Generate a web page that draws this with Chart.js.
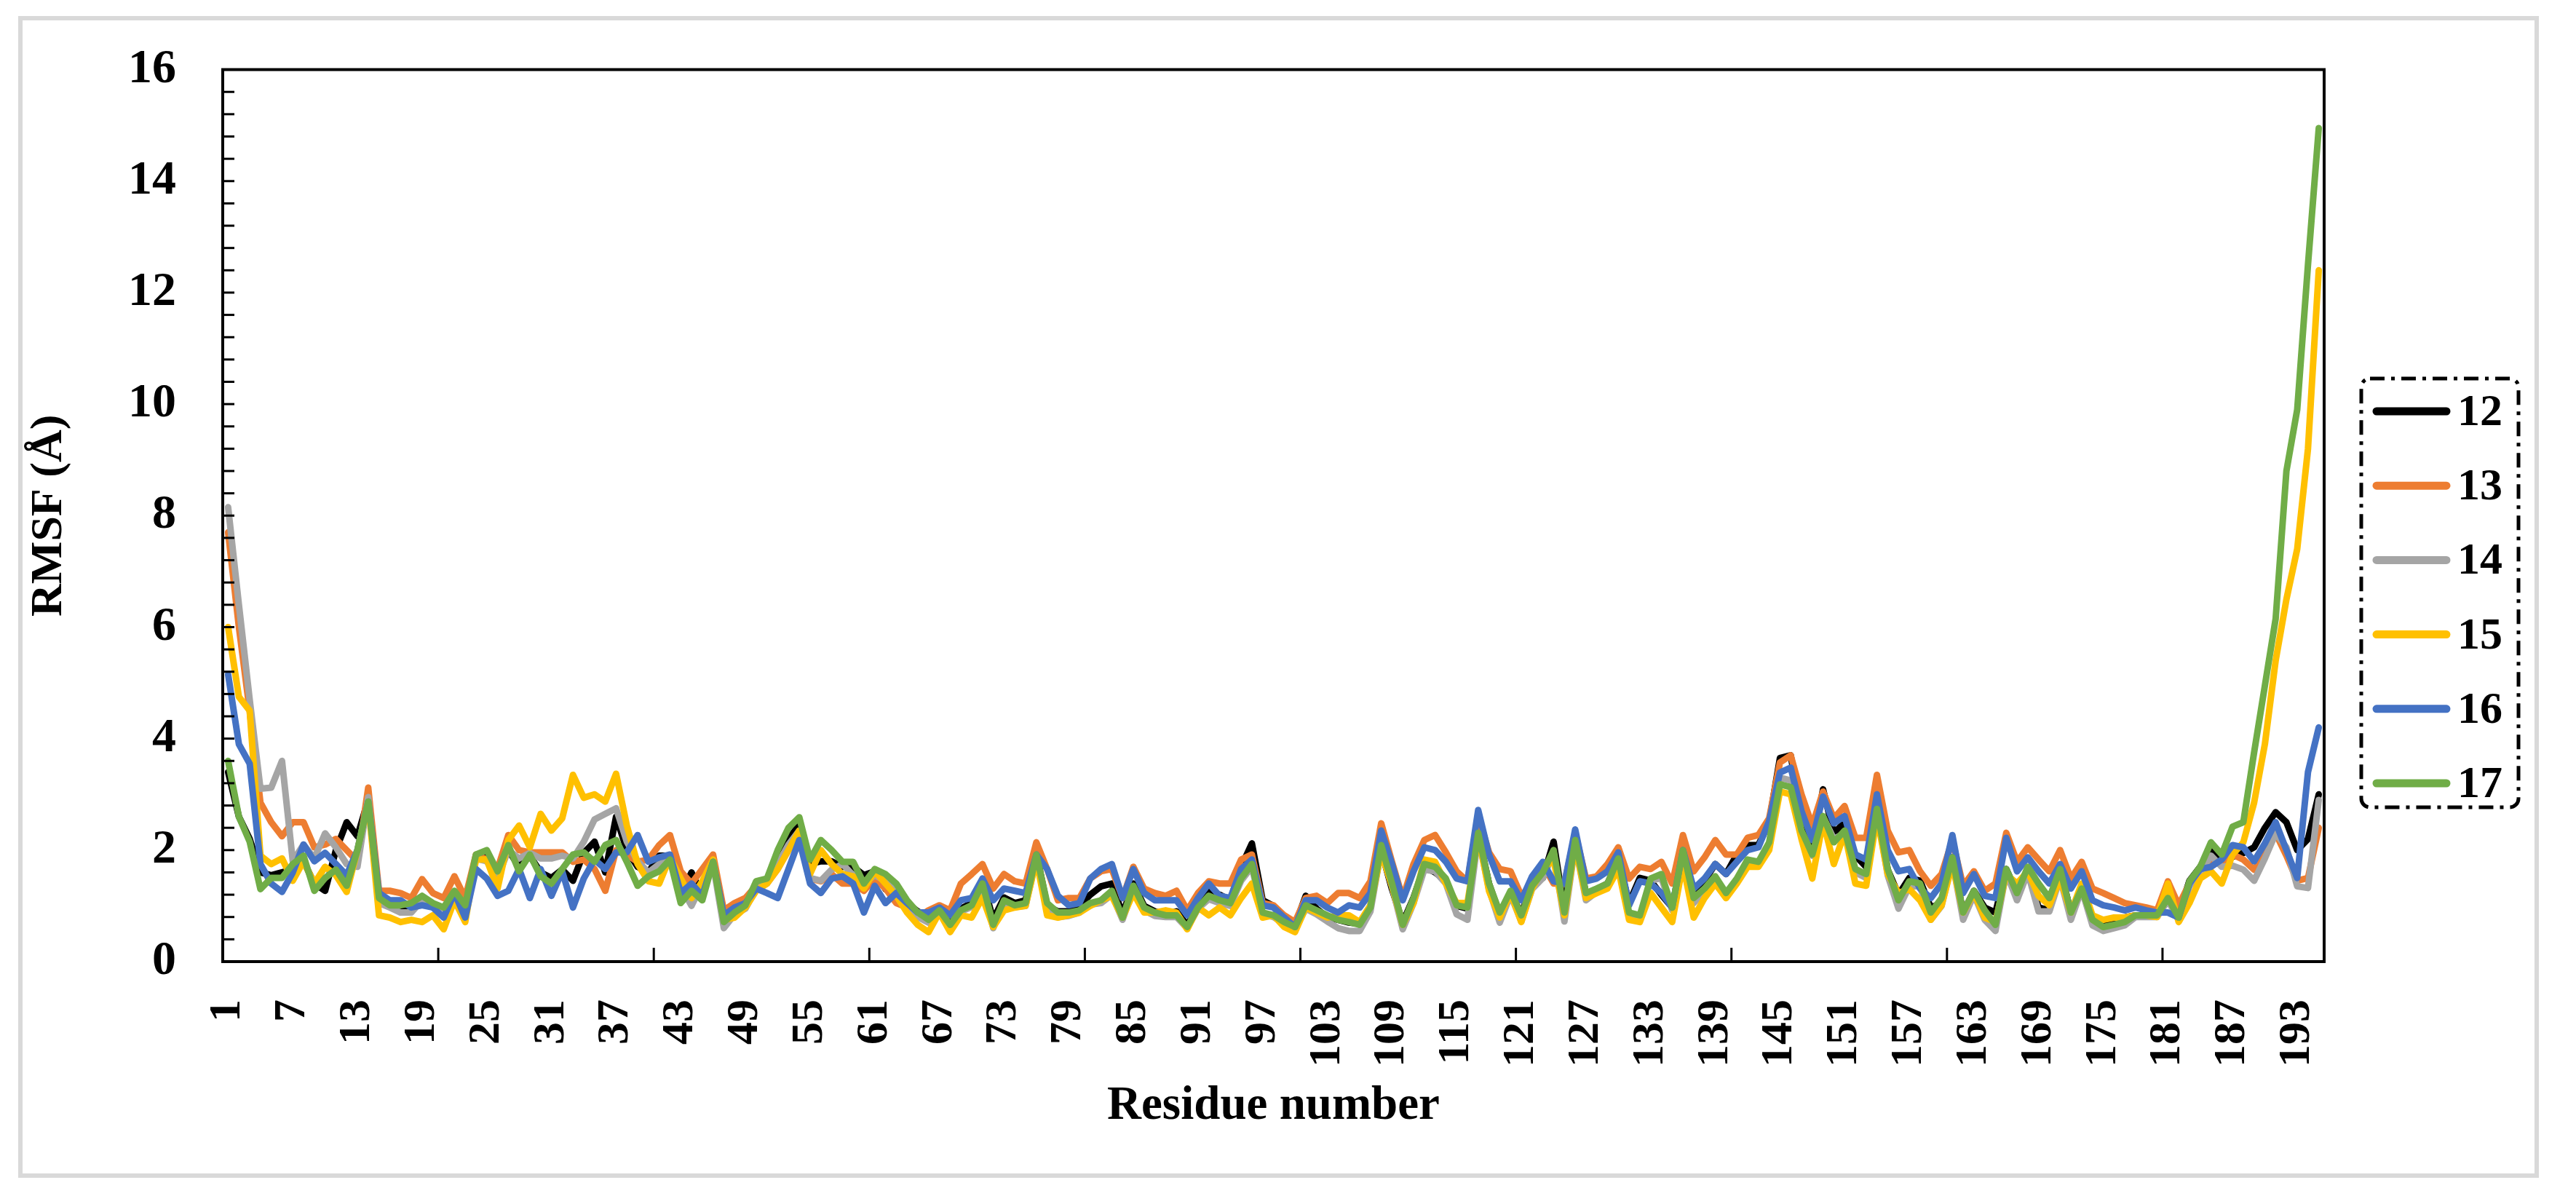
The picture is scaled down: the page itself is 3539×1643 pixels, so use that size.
<!DOCTYPE html>
<html>
<head>
<meta charset="utf-8">
<title>RMSF</title>
<script src="https://cdn.jsdelivr.net/npm/chart.js@4/dist/chart.umd.min.js"></script>
<style>
    html, body { margin: 0; padding: 0; background: #ffffff; }
    #contenedor { width: 3539px; height: 1643px; }
</style>
</head>
<body>
<div id="contenedor"><canvas id="grafica-rmsf" width="3539" height="1643"></canvas></div>
<script>
// ==================== DATOS ====================
const residuos = Array.from({ length: 195 }, (_, i) => String(i + 1));
const nombresSeries = ['12', '13', '14', '15', '16', '17'];
const ticksY = [0, 2, 4, 6, 8, 10, 12, 14, 16];

const rmsf12 = [
    3.4, 2.6, 2.2, 1.6, 1.55, 1.6, 1.65, 1.8, 1.4, 1.27,
    2.0, 2.5, 2.25, 2.9, 1.1, 1.0, 0.98, 0.95, 1.1, 1.0,
    0.95, 1.25, 0.95, 1.9, 1.9, 1.65, 2.0, 1.7, 1.9, 1.6,
    1.5, 1.65, 1.45, 1.95, 2.15, 1.6, 2.6, 2.0, 1.7, 1.6,
    1.9, 1.9, 1.2, 1.6, 1.2, 1.8, 0.75, 0.9, 1.0, 1.4,
    1.45, 1.85, 2.2, 2.45, 1.75, 1.8, 1.8, 1.7, 1.7, 1.55,
    1.62, 1.3, 1.2, 1.05, 0.9, 0.8, 0.9, 0.7, 0.95, 1.05,
    1.45, 0.75, 1.15, 1.05, 1.1, 1.95, 1.0, 0.9, 0.9, 1.0,
    1.2, 1.35, 1.4, 0.85, 1.4, 1.0, 0.9, 0.85, 0.9, 0.65,
    1.0, 1.25, 1.2, 1.1, 1.7, 2.12, 1.1, 1.0, 0.75, 0.65,
    1.18, 0.95, 0.8, 0.75, 0.7, 0.68, 1.0, 2.0, 1.3, 0.7,
    1.15, 1.7, 1.6, 1.45, 1.0, 0.95, 2.3, 1.4, 0.85, 1.25,
    0.85, 1.4, 1.5, 2.15, 0.9, 2.3, 1.2, 1.3, 1.4, 1.83,
    1.05, 1.5, 1.45, 1.2, 0.97, 1.96, 1.2, 1.45, 1.75, 1.57,
    1.92, 2.09, 2.09, 2.5, 3.65, 3.7, 2.6, 2.0, 3.09, 2.3,
    2.5, 1.9, 1.7, 2.75, 1.65, 1.2, 1.5, 1.45, 0.97, 1.05,
    1.87, 0.88, 1.27, 0.97, 0.88, 1.66, 1.23, 1.66, 0.97, 0.92,
    1.66, 0.88, 1.27, 0.79, 0.66, 0.71, 0.79, 0.83, 0.83, 0.83,
    1.15, 0.85, 1.45, 1.7, 2.0, 1.8, 1.88, 1.95, 2.05, 2.4,
    2.68, 2.5, 2.0, 2.2, 3.0
];

const rmsf13 = [
    7.7, 6.0, 4.5, 2.85, 2.5, 2.25, 2.5, 2.5, 2.05, 2.1,
    2.2, 2.0, 1.8, 3.12, 1.27, 1.27, 1.23, 1.14, 1.48, 1.23,
    1.14, 1.53, 1.14, 1.92, 1.83, 1.66, 2.27, 2.0, 1.96, 1.96,
    1.96, 1.96, 1.79, 1.83, 1.66, 1.27, 2.0, 1.92, 1.79, 1.83,
    2.09, 2.27, 1.62, 1.4, 1.66, 1.92, 0.92, 1.05, 1.14, 1.36,
    1.4, 1.66, 2.0, 2.27, 1.49, 1.44, 1.57, 1.4, 1.4, 1.27,
    1.49, 1.31, 1.05, 0.97, 0.79, 0.92, 1.01, 0.92, 1.4, 1.57,
    1.75, 1.31, 1.57, 1.44, 1.4, 2.14, 1.66, 1.1, 1.14, 1.14,
    1.49, 1.62, 1.66, 1.14, 1.7, 1.31, 1.23, 1.18, 1.27, 0.92,
    1.23, 1.44, 1.4, 1.4, 1.83, 1.92, 1.05, 1.01, 0.83, 0.71,
    1.14, 1.18, 1.05, 1.23, 1.23, 1.14, 1.44, 2.48, 1.79, 1.14,
    1.75, 2.18, 2.27, 1.96, 1.62, 1.44, 2.61, 1.96, 1.66, 1.62,
    1.18, 1.4, 1.75, 1.4, 1.4, 2.31, 1.49, 1.53, 1.75, 2.05,
    1.49, 1.7, 1.66, 1.79, 1.4, 2.27, 1.62, 1.87, 2.18, 1.92,
    1.92, 2.22, 2.27, 2.57, 3.57, 3.7, 3.0, 2.44, 3.05, 2.57,
    2.79, 2.22, 2.22, 3.35, 2.35, 1.96, 2.0, 1.62, 1.36, 1.57,
    2.18, 1.36, 1.62, 1.27, 1.4, 2.31, 1.79, 2.05, 1.83, 1.62,
    2.0, 1.49, 1.79, 1.31, 1.23, 1.14, 1.05, 1.01, 0.97, 0.92,
    1.44, 1.01, 1.4, 1.66, 1.79, 1.75, 1.92, 1.83, 1.65, 1.9,
    2.3, 1.9, 1.45, 1.5, 2.4
];

const rmsf14 = [
    8.15, 6.4, 4.7, 3.1, 3.12, 3.6, 1.8, 2.1, 1.85, 2.3,
    2.05, 1.75, 1.7, 2.95, 1.05, 0.97, 0.88, 0.88, 1.1, 1.0,
    0.95, 1.2, 0.85, 1.85, 1.8, 1.5, 2.0, 1.85, 1.95, 1.85,
    1.85, 1.9, 1.85, 2.15, 2.55, 2.65, 2.75, 2.15, 1.8, 1.6,
    1.75, 1.85, 1.35, 1.0, 1.4, 1.75, 0.6, 0.85, 0.95, 1.3,
    1.4, 1.75, 2.1, 2.35, 1.5, 1.45, 1.65, 1.75, 1.55, 1.4,
    1.55, 1.45, 1.25, 1.0, 0.8, 0.7, 0.88, 0.62, 0.9, 0.98,
    1.38, 0.6, 1.05, 0.98, 1.0, 1.85, 1.0, 0.8, 0.82, 0.88,
    1.02, 1.05, 1.2, 0.75, 1.3, 0.92, 0.82, 0.8, 0.8, 0.6,
    0.95, 1.12, 1.05, 1.0, 1.45, 1.7, 0.85, 0.8, 0.68, 0.58,
    0.95, 0.85, 0.72, 0.6, 0.55, 0.55, 0.9, 2.0, 1.35, 0.58,
    1.05, 1.65, 1.62, 1.4, 0.85, 0.75, 2.25, 1.3, 0.7, 1.2,
    0.72, 1.3, 1.5, 1.95, 0.72, 2.1, 1.1, 1.25, 1.35, 1.83,
    0.83, 0.79, 1.45, 1.5, 0.92, 1.9, 1.05, 1.27, 1.5, 1.18,
    1.45, 1.75, 1.75, 2.1, 3.3, 3.25, 2.3, 1.9, 2.6, 2.2,
    2.3, 1.6, 1.5, 2.7, 1.55, 0.95, 1.35, 1.35, 0.75, 1.0,
    1.8, 0.75, 1.2, 0.75, 0.55, 1.6, 1.1, 1.6, 0.9, 0.9,
    1.5, 0.75, 1.3, 0.65, 0.55, 0.6, 0.65, 0.8, 0.8, 0.8,
    1.1, 0.75, 1.35, 1.6, 1.9, 1.7, 1.72, 1.65, 1.45, 1.85,
    2.3, 2.05, 1.35, 1.32, 2.9
];

const rmsf15 = [
    6.0, 4.75, 4.5, 1.9, 1.75, 1.85, 1.45, 1.8, 1.4, 1.7,
    1.55, 1.25, 2.0, 2.85, 0.83, 0.79, 0.71, 0.75, 0.71, 0.83,
    0.58, 1.1, 0.71, 1.83, 1.83, 1.31, 2.18, 2.44, 2.05, 2.65,
    2.35, 2.57, 3.35, 2.94, 3.0, 2.87, 3.37, 2.44, 1.75, 1.44,
    1.4, 1.87, 1.49, 1.14, 1.44, 1.83, 0.75, 0.79, 0.97, 1.27,
    1.4, 1.66, 2.0, 2.35, 1.57, 2.0, 1.75, 1.57, 1.53, 1.31,
    1.62, 1.4, 1.18, 0.88, 0.66, 0.53, 0.88, 0.53, 0.83, 0.79,
    1.15, 0.62, 0.92, 0.97, 1.0, 1.83, 0.83, 0.79, 0.83, 0.88,
    1.0, 1.1, 1.18, 0.79, 1.23, 0.88, 0.88, 0.92, 0.88, 0.58,
    0.97, 0.83, 0.97, 0.83, 1.14, 1.4, 0.79, 0.83, 0.62, 0.53,
    0.97, 0.88, 0.79, 0.83, 0.83, 0.71, 1.01, 1.96, 1.36, 0.66,
    1.05, 1.83, 1.79, 1.4, 1.05, 1.05, 2.27, 1.27, 0.79, 1.23,
    0.71, 1.31, 1.66, 1.83, 0.83, 2.1, 1.14, 1.23, 1.31, 1.66,
    0.75, 0.71, 1.23, 0.97, 0.71, 1.75, 0.79, 1.14, 1.4, 1.14,
    1.4, 1.7, 1.7, 2.0, 3.05, 3.0, 2.2, 1.49, 2.52, 1.75,
    2.31, 1.4, 1.36, 2.61, 1.57, 1.23, 1.3, 1.1, 0.75, 1.01,
    1.75, 0.88, 1.23, 0.79, 0.71, 1.57, 1.4, 1.62, 1.18, 1.01,
    1.49, 0.88, 1.4, 0.83, 0.75, 0.79, 0.79, 0.83, 0.83, 0.8,
    1.4, 0.71, 1.05, 1.49, 1.62, 1.4, 1.92, 2.14, 2.85, 3.9,
    5.4, 6.5, 7.4, 9.2, 12.4
];

const rmsf16 = [
    5.15, 3.9, 3.55, 1.75, 1.4, 1.25, 1.6, 2.1, 1.8, 1.95,
    1.75, 1.55, 2.0, 2.87, 1.23, 1.1, 1.1, 0.97, 1.01, 0.97,
    0.79, 1.23, 0.79, 1.66, 1.49, 1.18, 1.27, 1.66, 1.14, 1.66,
    1.18, 1.62, 0.97, 1.49, 1.83, 1.66, 1.96, 1.96, 2.27, 1.79,
    1.87, 1.92, 1.23, 1.4, 1.18, 1.79, 0.83, 0.97, 1.05, 1.31,
    1.23, 1.14, 1.66, 2.18, 1.4, 1.23, 1.49, 1.53, 1.4, 0.88,
    1.36, 1.05, 1.23, 1.05, 0.88, 0.88, 0.97, 0.83, 1.1, 1.14,
    1.49, 1.1, 1.31, 1.27, 1.23, 1.92, 1.66, 1.18, 1.01, 1.05,
    1.49, 1.66, 1.75, 1.14, 1.66, 1.23, 1.1, 1.1, 1.1, 0.83,
    1.14, 1.4, 1.18, 1.14, 1.66, 1.83, 1.01, 0.97, 0.79, 0.62,
    1.1, 1.1, 0.97, 0.88, 1.01, 0.97, 1.23, 2.35, 1.75, 1.1,
    1.62, 2.05, 2.0, 1.79, 1.49, 1.44, 2.72, 1.92, 1.44, 1.44,
    1.1, 1.53, 1.79, 1.44, 1.4, 2.37, 1.44, 1.49, 1.62, 1.96,
    1.01, 1.44, 1.4, 1.23, 0.97, 2.0, 1.31, 1.49, 1.75, 1.57,
    1.79, 2.0, 2.05, 2.52, 3.39, 3.48, 2.7, 2.18, 2.96, 2.48,
    2.61, 1.92, 1.83, 3.0, 2.0, 1.62, 1.66, 1.31, 1.14, 1.4,
    2.27, 1.23, 1.57, 1.18, 1.14, 2.22, 1.62, 1.87, 1.62, 1.4,
    1.75, 1.31, 1.62, 1.1, 1.01, 0.97, 0.92, 0.97, 0.92, 0.88,
    0.88, 0.79, 1.4, 1.66, 1.7, 1.83, 2.09, 2.05, 1.8, 2.12,
    2.5, 2.0, 1.5, 3.4, 4.2
];

const rmsf17 = [
    3.6, 2.6, 2.15, 1.3, 1.5, 1.5, 1.75, 1.9, 1.27, 1.5,
    1.65, 1.36, 2.0, 2.87, 1.14, 1.01, 1.01, 1.05, 1.18, 1.05,
    0.97, 1.27, 1.01, 1.92, 2.0, 1.62, 2.09, 1.62, 1.92, 1.53,
    1.4, 1.66, 1.92, 1.96, 1.79, 2.09, 2.18, 1.79, 1.36, 1.53,
    1.62, 1.83, 1.05, 1.27, 1.1, 1.79, 0.71, 0.88, 1.01, 1.44,
    1.49, 2.0, 2.4, 2.59, 1.83, 2.18, 2.0, 1.79, 1.79, 1.4,
    1.66, 1.57, 1.4, 1.1, 0.88, 0.75, 0.92, 0.66, 0.92, 1.01,
    1.4, 0.66, 1.1, 1.01, 1.05, 1.92, 1.05, 0.88, 0.88, 0.92,
    1.05, 1.1, 1.27, 0.79, 1.36, 0.97, 0.88, 0.83, 0.83, 0.62,
    0.97, 1.18, 1.1, 1.05, 1.49, 1.75, 0.88, 0.83, 0.71, 0.62,
    1.01, 0.92, 0.83, 0.75, 0.71, 0.66, 0.97, 2.09, 1.4, 0.66,
    1.14, 1.75, 1.7, 1.49, 1.01, 0.97, 2.31, 1.4, 0.88, 1.27,
    0.83, 1.36, 1.6, 2.0, 0.88, 2.18, 1.23, 1.31, 1.4, 1.85,
    0.88, 0.83, 1.49, 1.57, 0.97, 2.0, 1.14, 1.31, 1.53, 1.23,
    1.49, 1.83, 1.79, 2.14, 3.18, 3.13, 2.35, 1.92, 2.61, 2.14,
    2.35, 1.66, 1.57, 2.74, 1.66, 1.1, 1.44, 1.4, 0.88, 1.14,
    1.87, 0.88, 1.27, 0.92, 0.66, 1.66, 1.23, 1.7, 1.4, 1.14,
    1.66, 0.88, 1.31, 0.75, 0.62, 0.66, 0.71, 0.83, 0.83, 0.83,
    1.14, 0.79, 1.44, 1.7, 2.14, 1.92, 2.42, 2.5, 3.75, 4.95,
    6.15, 8.8, 9.9, 12.5, 14.95
];

// ==================== ESTILOS ====================
const colores = ['#000000', '#ED7D31', '#A5A5A5', '#FFC000', '#4472C4', '#70AD47'];
const fuente = "'Liberation Serif', 'Times New Roman', serif";

Chart.defaults.font.family = fuente;
Chart.defaults.color = '#000000';

const series = [rmsf12, rmsf13, rmsf14, rmsf15, rmsf16, rmsf17];

// Marco del área, marcas interiores de los ejes, leyenda y borde exterior
const marcoPlugin = {
    id: 'marco',
    beforeDraw(chart) {
        const ctx = chart.ctx;
        ctx.save();
        ctx.strokeStyle = '#d9d9d9';
        ctx.lineWidth = 6;
        ctx.strokeRect(28, 25, 3457, 1590);
        ctx.restore();
    },
    afterDatasetsDraw(chart) {
        const { ctx, chartArea: a, scales: { x, y } } = chart;
        ctx.save();
        ctx.strokeStyle = '#000000';
        ctx.lineWidth = 3;

        // marcas del eje x cada 20 residuos (entre categorías)
        for (let k = 20; k < residuos.length; k += 20) {
            const px = (x.getPixelForValue(k - 1) + x.getPixelForValue(k)) / 2;
            ctx.beginPath();
            ctx.moveTo(px, a.bottom);
            ctx.lineTo(px, a.bottom - 19);
            ctx.stroke();
        }
        // marcas del eje y cada 0.4
        const maxY = ticksY[ticksY.length - 1];
        for (let j = 1; j * 0.4 < maxY - 0.01; j++) {
            const py = y.getPixelForValue(j * 0.4);
            ctx.beginPath();
            ctx.moveTo(a.left, py);
            ctx.lineTo(a.left + 16, py);
            ctx.stroke();
        }

        ctx.lineWidth = 4;
        ctx.strokeRect(a.left, a.top, a.right - a.left, a.bottom - a.top);
        ctx.restore();
    },
    afterDraw(chart) {
        const ctx = chart.ctx;
        const caja = { x: 3244, y: 520, ancho: 216, alto: 589 };
        ctx.save();
        ctx.strokeStyle = '#000000';
        ctx.lineWidth = 5;
        ctx.setLineDash([20, 9, 5, 9]);
        ctx.beginPath();
        ctx.roundRect(caja.x, caja.y, caja.ancho, caja.alto, 12);
        ctx.stroke();
        ctx.setLineDash([]);

        ctx.font = `bold 62px ${fuente}`;
        ctx.textAlign = 'left';
        ctx.textBaseline = 'middle';
        nombresSeries.forEach((nombre, i) => {
            const fila = 565 + i * 102.2;
            ctx.strokeStyle = colores[i];
            ctx.lineWidth = 11;
            ctx.lineCap = 'round';
            ctx.beginPath();
            ctx.moveTo(3265, fila);
            ctx.lineTo(3361, fila);
            ctx.stroke();
            ctx.fillStyle = '#000000';
            ctx.fillText(nombre, 3376, fila + 3);
        });
        ctx.restore();
    }
};

const ctx = document.getElementById('grafica-rmsf').getContext('2d');

new Chart(ctx, {
    type: 'line',
    data: {
        labels: residuos,
        datasets: series.map((datos, i) => ({
            label: nombresSeries[i],
            data: datos,
            borderColor: colores[i],
            backgroundColor: colores[i],
            borderWidth: 9,
            pointRadius: 0,
            tension: 0,
            borderJoinStyle: 'round',
            borderCapStyle: 'round',
            order: series.length - i // la serie 17 queda encima
        }))
    },
    options: {
        responsive: false,
        devicePixelRatio: 1,
        animation: false,
        layout: { padding: { left: 0, right: 346, top: 90, bottom: 0 } },
        plugins: {
            legend: { display: false },
            tooltip: { enabled: false }
        },
        scales: {
            x: {
                type: 'category',
                offset: true,
                grid: { display: false },
                border: { display: false },
                ticks: {
                    autoSkip: false,
                    minRotation: 90,
                    maxRotation: 90,
                    padding: 44,
                    color: '#000000',
                    font: { size: 62, weight: 'bold' },
                    callback: (valor, i) => (i % 6 === 0 ? residuos[i] : null)
                },
                title: {
                    display: true,
                    text: 'Residue number',
                    color: '#000000',
                    font: { size: 65, weight: 'bold' },
                    padding: { top: 0, bottom: 84 }
                },
                afterFit: (escala) => { escala.height = 322; }
            },
            y: {
                min: ticksY[0],
                max: ticksY[ticksY.length - 1],
                grid: { display: false },
                border: { display: false },
                afterBuildTicks: (escala) => { escala.ticks = ticksY.map(v => ({ value: v })); },
                ticks: {
                    padding: 56,
                    color: '#000000',
                    font: { size: 66, weight: 'bold' }
                },
                title: {
                    display: true,
                    text: 'RMSF (Å)',
                    color: '#000000',
                    font: { size: 62, weight: 'bold' },
                    padding: { top: 31, bottom: 0 }
                },
                afterFit: (escala) => { escala.width = 306; }
            }
        }
    },
    plugins: [marcoPlugin]
});
</script>
</body>
</html>
